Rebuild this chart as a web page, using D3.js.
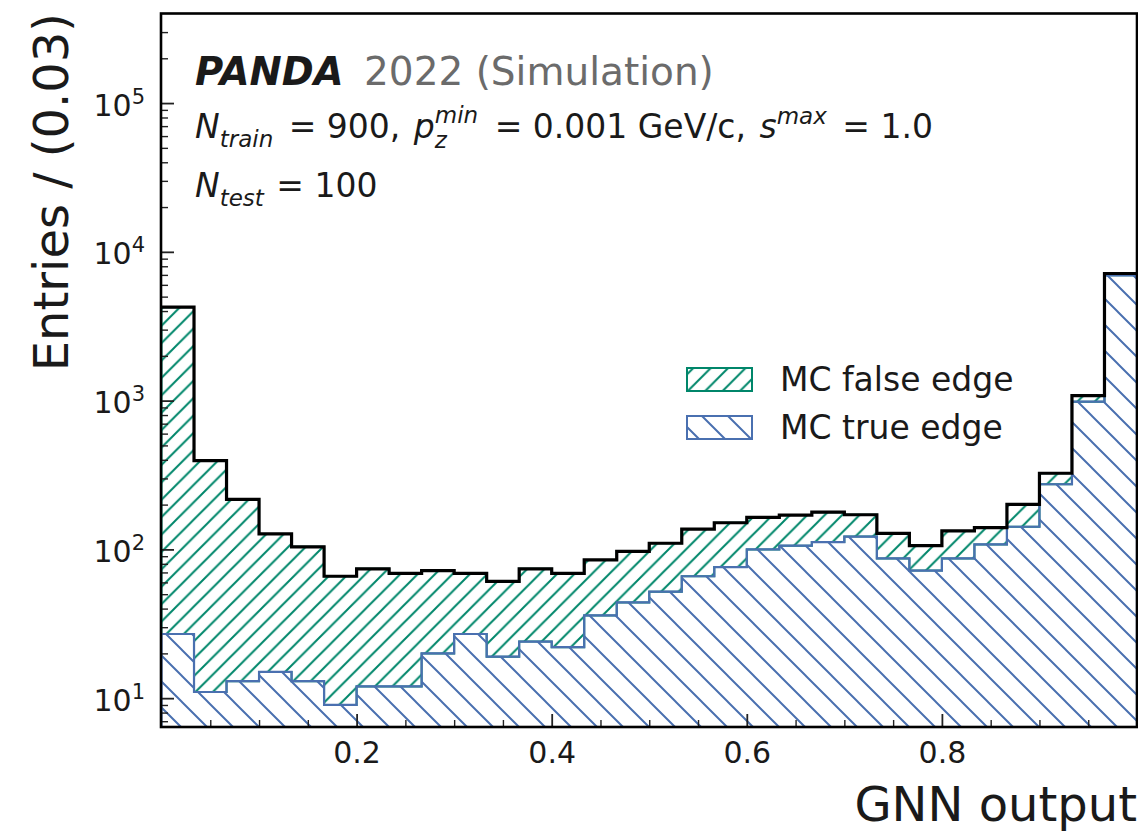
<!DOCTYPE html>
<html><head><meta charset="utf-8">
<script src="https://cdn.jsdelivr.net/npm/d3@7"></script>
<style>body{margin:0;background:#fff}svg{display:block;font-family:"DejaVu Sans",sans-serif}</style>
</head><body>
<svg id="c" width="1138" height="834"></svg>
<script>
// ---- data ----
const binEdges = [0, 1/30, 2/30, 3/30, 4/30, 5/30, 6/30, 7/30, 8/30, 9/30, 10/30,
  11/30, 12/30, 13/30, 14/30, 15/30, 16/30, 17/30, 18/30, 19/30, 20/30,
  21/30, 22/30, 23/30, 24/30, 25/30, 26/30, 27/30, 28/30, 29/30, 1];
const trueEdge  = [27, 11, 13, 15, 13, 9, 12, 12, 20, 27, 19, 24, 22, 36, 44, 52, 66, 76, 100, 106, 112, 122, 87, 72, 87, 108, 142, 274, 984, 6950];
const falseEdge = [4223, 384, 204, 112, 91, 57, 62, 57, 52, 42, 42, 50, 47, 49, 53, 58, 71, 75, 64, 64, 66, 49, 41, 34, 46, 32, 59, 51, 97, 200];
const xMajorTicks = [0.2, 0.4, 0.6, 0.8];
const xMinorTicks = [0.05, 0.1, 0.15, 0.25, 0.3, 0.35, 0.45, 0.5, 0.55, 0.65, 0.7, 0.75, 0.85, 0.9, 0.95];
const yMajorTicks = [10, 100, 1000, 10000, 100000];
const yTickExponents = ["1", "2", "3", "4", "5"];
const yMinorTicks = [7, 8, 9, 20, 30, 40, 50, 60, 70, 80, 90, 200, 300, 400, 500, 600, 700, 800, 900,
  2000, 3000, 4000, 5000, 6000, 7000, 8000, 9000, 20000, 30000, 40000, 50000, 60000, 70000, 80000, 90000,
  200000, 300000];
const legendLabels = ["MC false edge", "MC true edge"];

// ---- layout ----
const L = 161, R = 1137, T = 13.5, B = 727;
const GREEN = "#00866a", BLUE = "#4a70b0";
const svg = d3.select("#c");
const x = d3.scaleLinear().domain([0, 1]).range([L + 0.5, R]);
const y = d3.scaleLog().domain([6.4, 4.0e5]).range([B, T]);

const defs = svg.append("defs");
defs.append("clipPath").attr("id", "clip").append("rect")
  .attr("x", L).attr("y", T).attr("width", R - L).attr("height", B - T);
function hatch(id, w, color, dir) {
  const p = defs.append("pattern").attr("id", id).attr("patternUnits", "userSpaceOnUse")
    .attr("width", w).attr("height", w);
  const d = dir === "/"
    ? `M0,${w} L${w},0 M${-w/4},${w/4} L${w/4},${-w/4} M${3*w/4},${5*w/4} L${5*w/4},${3*w/4}`
    : `M0,0 L${w},${w} M${-w/4},${3*w/4} L${w/4},${5*w/4} M${3*w/4},${-w/4} L${5*w/4},${w/4}`;
  p.append("path").attr("d", d).attr("stroke", color).attr("stroke-width", 2).attr("fill", "none");
}
hatch("hg", 17.4, GREEN, "/");
hatch("hb", 26, BLUE, "\\");

// data rows for step curves
const rows = binEdges.map((e, i) => {
  const k = Math.min(i, trueEdge.length - 1);
  return { x: e, t: trueEdge[k], tot: trueEdge[k] + falseEdge[k] };
});

const plot = svg.append("g").attr("clip-path", "url(#clip)");
const areaGreen = d3.area().curve(d3.curveStepAfter)
  .x(d => x(d.x)).y0(d => y(d.t)).y1(d => y(d.tot));
const areaBlue = d3.area().curve(d3.curveStepAfter)
  .x(d => x(d.x)).y0(B + 5).y1(d => y(d.t));
plot.append("path").datum(rows).attr("d", areaGreen)
  .attr("fill", "url(#hg)").attr("stroke", GREEN).attr("stroke-width", 2);
plot.append("path").datum(rows).attr("d", areaBlue)
  .attr("fill", "url(#hb)").attr("stroke", BLUE).attr("stroke-width", 2.2);
const stepTot = d3.line().curve(d3.curveStepAfter).x(d => x(d.x)).y(d => y(d.tot));
plot.append("path").datum(rows).attr("d", stepTot)
  .attr("fill", "none").attr("stroke", "#000").attr("stroke-width", 3.2);

// ---- axes ----
const tickCol = "#222";
const gx = svg.append("g").attr("transform", `translate(0,${B})`)
  .call(d3.axisBottom(x).tickValues(xMajorTicks).tickSize(-13).tickFormat(d3.format(".1f")));
gx.select(".domain").remove();
gx.selectAll(".tick line").attr("stroke", tickCol).attr("stroke-width", 1.8);
gx.selectAll(".tick text").attr("dy", null).attr("y", 36)
  .attr("font-size", 30).attr("font-family", "DejaVu Sans").attr("fill", "#1a1a1a");
const gxm = svg.append("g").attr("transform", `translate(0,${B})`)
  .call(d3.axisBottom(x).tickValues(xMinorTicks).tickSize(-7).tickFormat(""));
gxm.select(".domain").remove();
gxm.selectAll(".tick line").attr("stroke", tickCol).attr("stroke-width", 1.4);

const gy = svg.append("g").attr("transform", `translate(${L},0)`)
  .call(d3.axisLeft(y).tickValues(yMajorTicks).tickSize(-13).tickPadding(16).tickFormat(() => ""));
gy.select(".domain").remove();
gy.selectAll(".tick line").attr("stroke", tickCol).attr("stroke-width", 1.8);
gy.selectAll(".tick text").each(function(d, i) {
  const t = d3.select(this).attr("dy", null).attr("y", 12)
    .attr("font-size", 30).attr("font-family", "DejaVu Sans").attr("fill", "#1a1a1a");
  t.append("tspan").text("10");
  t.append("tspan").attr("dy", -12).attr("font-size", 21).text(yTickExponents[i]);
});
const gym = svg.append("g").attr("transform", `translate(${L},0)`)
  .call(d3.axisLeft(y).tickValues(yMinorTicks).tickSize(-7).tickFormat(""));
gym.select(".domain").remove();
gym.selectAll(".tick line").attr("stroke", tickCol).attr("stroke-width", 1.4);

// frame
svg.append("rect").attr("x", L).attr("y", T).attr("width", R - L).attr("height", B - T)
  .attr("fill", "none").attr("stroke", "#000").attr("stroke-width", 2.6);

// axis labels
svg.append("text").attr("transform", "translate(68,13) rotate(-90)")
  .attr("text-anchor", "end").attr("font-size", 48).attr("fill", "#1a1a1a")
  .text("Entries / (0.03)");
svg.append("text").attr("x", 1137).attr("y", 821).attr("text-anchor", "end")
  .attr("font-size", 48).attr("fill", "#1a1a1a").text("GNN output");

// ---- annotation text ----
svg.append("text").attr("x", 195).attr("y", 85).attr("font-size", 38.5)
  .attr("font-weight", "bold").attr("font-style", "italic").attr("fill", "#1a1a1a").text("PANDA");
svg.append("text").attr("x", 364).attr("y", 85).attr("font-size", 39)
  .attr("fill", "#6b6b6b").text("2022 (Simulation)");

function mathLine(x0, base, parts) {
  let cx = x0, stackStart = null, stackW = 0;
  parts.forEach(p => {
    const t = svg.append("text").attr("y", base + (p.shift || 0)).attr("font-size", p.size)
      .attr("fill", "#1a1a1a").attr("xml:space", "preserve").style("white-space", "pre")
      .attr("font-style", p.it ? "italic" : "normal").text(p.text);
    if (p.stack) { t.attr("x", stackStart); }
    else { t.attr("x", cx); }
    const w = t.node().getComputedTextLength();
    if (p.stack) { cx = stackStart + Math.max(stackW, w); }
    else { stackStart = cx; stackW = w; cx += w; }
    if (p.gap) cx += p.gap;
  });
}
mathLine(195, 138, [
  {text: "N", it: true, size: 33},
  {text: "train", it: true, size: 23, shift: 8.5, gap: 5},
  {text: " = 900, ", size: 33, gap: 3},
  {text: "p", it: true, size: 33},
  {text: "z", it: true, size: 23, shift: 10},
  {text: "min", it: true, size: 23, shift: -15, stack: true, gap: 6},
  {text: " = 0.001 GeV/c, ", size: 33, gap: 3},
  {text: "s", it: true, size: 33},
  {text: "max", it: true, size: 23, shift: -14, gap: 5},
  {text: " = 1.0", size: 33}
]);
mathLine(195, 197, [
  {text: "N", it: true, size: 33},
  {text: "test", it: true, size: 23, shift: 8.5, gap: 2},
  {text: " = 100", size: 33}
]);

// ---- legend ----
const leg = svg.append("g");
const legFills = ["url(#hg)", "url(#hb)"], legStroke = [GREEN, BLUE], legY = [368, 416];
legendLabels.forEach((lab, i) => {
  leg.append("rect").attr("x", 687).attr("y", legY[i]).attr("width", 65).attr("height", 23)
    .attr("fill", legFills[i]).attr("stroke", legStroke[i]).attr("stroke-width", 2);
  leg.append("text").attr("x", 780).attr("y", legY[i] + 23).attr("font-size", 33)
    .attr("fill", "#1a1a1a").text(lab);
});
</script>
</body></html>
